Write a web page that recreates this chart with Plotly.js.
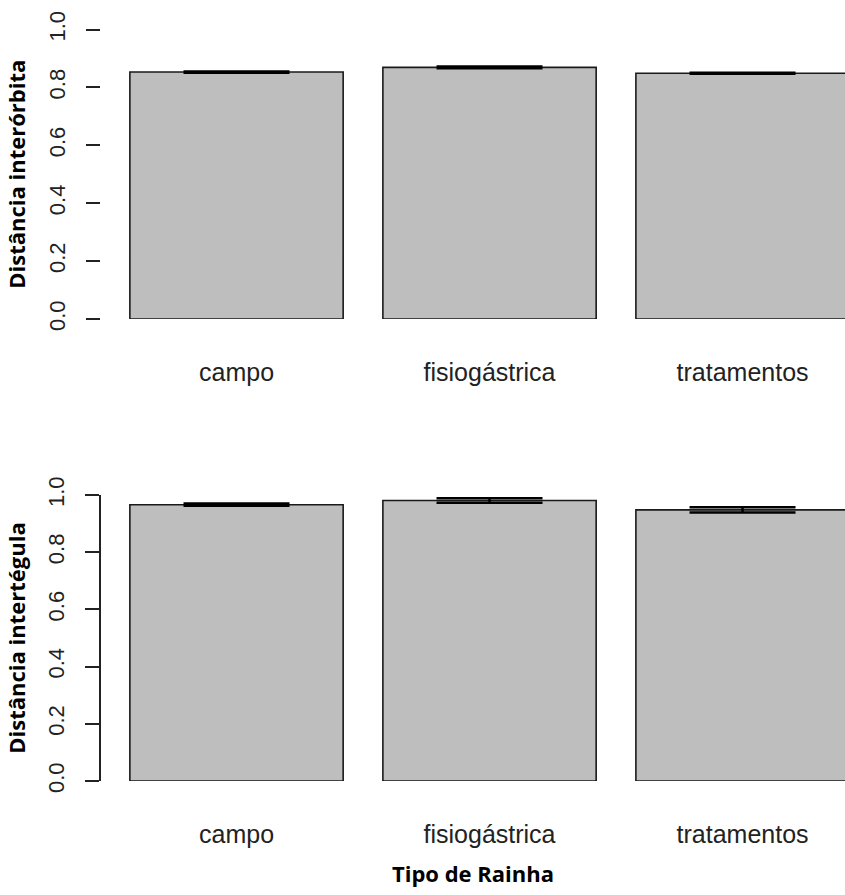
<!DOCTYPE html>
<html>
<head>
<meta charset="utf-8">
<script src="https://cdn.plot.ly/plotly-3.0.1.min.js"></script>
<style>html,body{margin:0;padding:0;background:#fff;}</style>
</head>
<body>
<div id="chart" style="width:845px;height:895px;"></div>
<script>
const categories = ["campo", "fisiogástrica", "tratamentos"];
const interorbitaMean = [0.853, 0.869, 0.849];
const interorbitaSE = [0.002, 0.003, 0.002];
const intertegulaMean = [0.966, 0.981, 0.948];
const intertegulaSE = [0.004, 0.008, 0.009];
const yTicks = [0, 0.2, 0.4, 0.6, 0.8, 1.0];
const yTickText = ["0.0", "0.2", "0.4", "0.6", "0.8", "1.0"];

const barStyle = {color: "#bebebe", line: {color: "#1a1a1a", width: 1.6}};
const errStyle = {type: "data", visible: true, color: "#000", thickness: 2.5, width: 53};

const traces = [
  {type: "bar", x: categories, y: interorbitaMean, xaxis: "x", yaxis: "y",
   marker: barStyle, error_y: Object.assign({array: interorbitaSE}, errStyle),
   hoverinfo: "x+y", showlegend: false},
  {type: "bar", x: categories, y: intertegulaMean, xaxis: "x2", yaxis: "y2",
   marker: barStyle, error_y: Object.assign({array: intertegulaSE}, errStyle),
   hoverinfo: "x+y", showlegend: false}
];

const tickFont = {family: "Liberation Sans, Arial, sans-serif", size: 25, color: "#222"};
const yTickFont = {family: "Liberation Sans, Arial, sans-serif", size: 22, color: "#222"};
const titleFont = {family: "Open Sans, sans-serif", size: 22, color: "#000", weight: "bold"};

function xAxis(anchor, title) {
  const a = {
    anchor: anchor, domain: [101/845, 1], type: "category",
    range: [-0.5356, 2.405], showgrid: false, zeroline: false, showline: false,
    ticks: "", ticklabelstandoff: 36, tickfont: tickFont, fixedrange: true
  };
  if (title) a.title = {text: title, font: titleFont, standoff: 19};
  return a;
}
function yAxis(anchor, domain, title, showline) {
  return {
    anchor: anchor, domain: domain, range: [0, 1], showgrid: false, zeroline: false,
    showline: showline, linecolor: "#222", linewidth: 1.5,
    ticks: "outside", ticklen: 14, tickwidth: 1.5, tickcolor: "#222",
    tickvals: yTicks, ticktext: yTickText, tickangle: -90, tickfont: yTickFont,
    ticklabelstandoff: 12,
    title: {text: title, font: titleFont, standoff: 13}, fixedrange: true
  };
}

const layout = {
  width: 845, height: 895,
  margin: {l: 0, r: 0, t: 0, b: 0},
  paper_bgcolor: "#fff", plot_bgcolor: "#fff",
  bargap: 0.157,
  xaxis: xAxis("y", null),
  yaxis: yAxis("x", [(895-319)/895, (895-29.5)/895], "Distância interórbita", false),
  xaxis2: xAxis("y2", "Tipo de Rainha"),
  yaxis2: yAxis("x2", [(895-781)/895, (895-495)/895], "Distância intertégula", true)
};

Plotly.newPlot("chart", traces, layout, {displayModeBar: false, staticPlot: false});
</script>
</body>
</html>
